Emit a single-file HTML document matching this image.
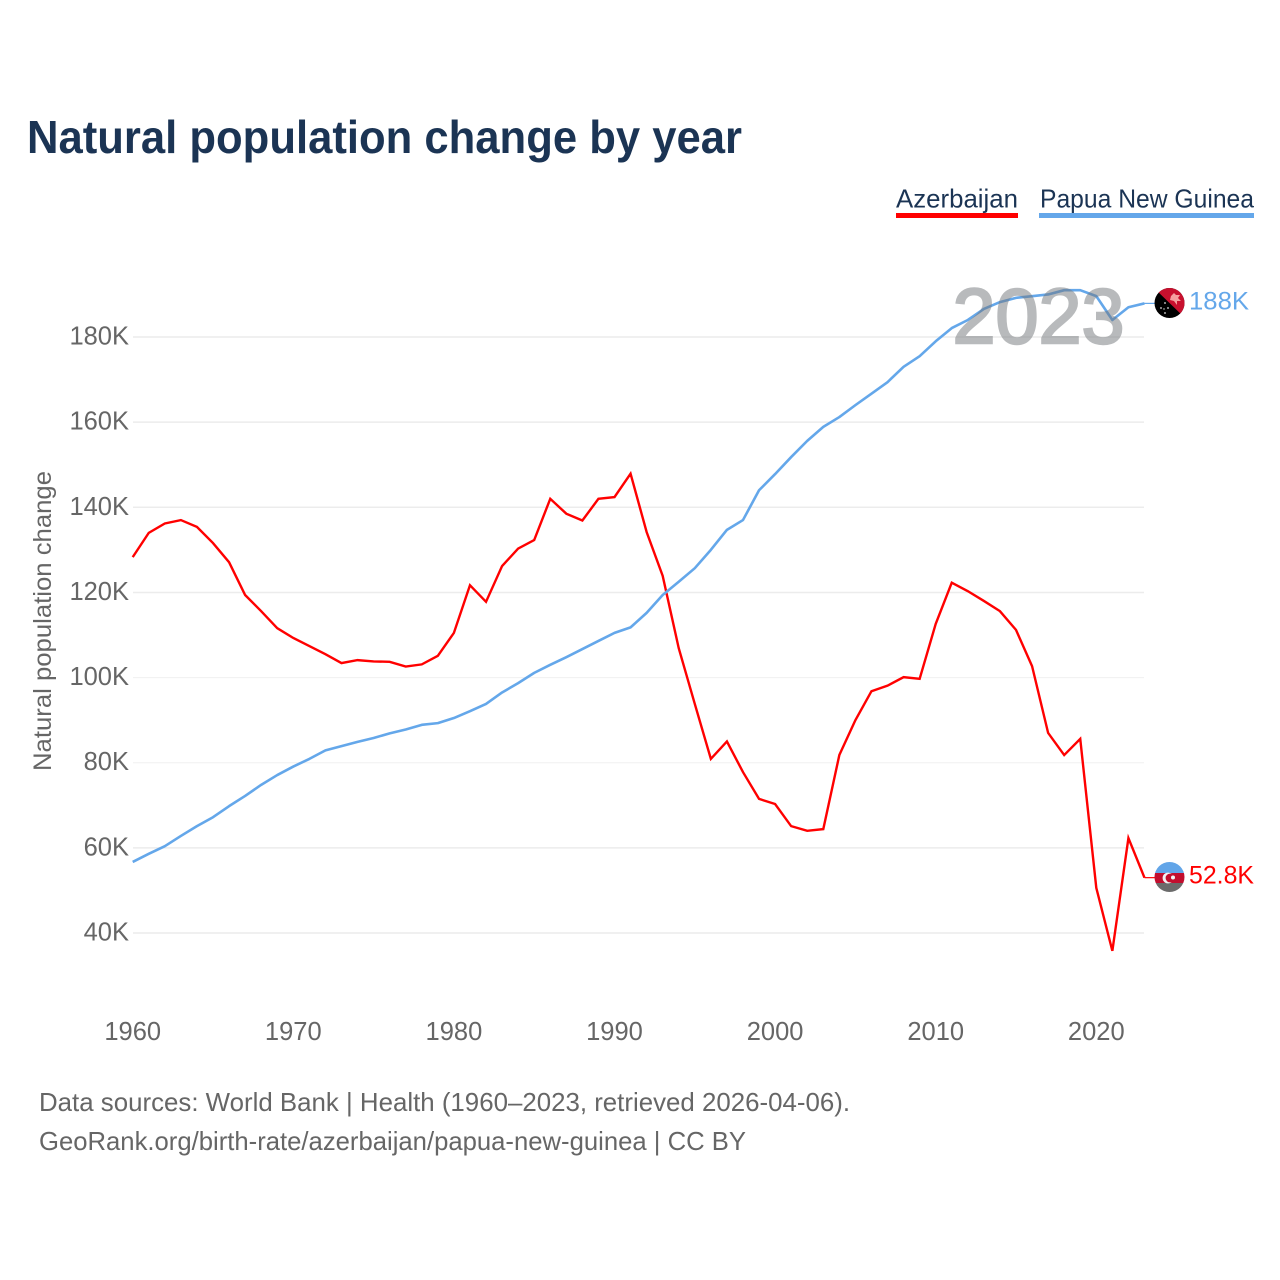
<!DOCTYPE html>
<html lang="en">
<head>
<meta charset="utf-8">
<title>Natural population change by year</title>
<style>
html,body{margin:0;padding:0;background:#fff;width:1280px;height:1280px;overflow:hidden}
svg{display:block;font-family:"Liberation Sans",sans-serif}
</style>
</head>
<body>
<svg id="chart" width="1280" height="1280" viewBox="0 0 1280 1280">
  <defs>
    <clipPath id="flag-clip-pg"><circle cx="1169.5" cy="303" r="15"/></clipPath>
    <clipPath id="flag-clip-az"><circle cx="1169.5" cy="877" r="15"/></clipPath>
  </defs>
  <rect width="1280" height="1280" fill="#fff"/>
  <text x="27" y="153" font-size="46" font-weight="700" fill="#1b3454" textLength="715" lengthAdjust="spacingAndGlyphs">Natural population change by year</text>

  <g>
    <text x="896" y="207.5" font-size="26" fill="#1b3454" textLength="122" lengthAdjust="spacingAndGlyphs">Azerbaijan</text>
    <rect x="896" y="213" width="122" height="5" fill="#ff0000"/>
  </g>
  <g>
    <text x="1040" y="207.5" font-size="26" fill="#1b3454" textLength="214" lengthAdjust="spacingAndGlyphs">Papua New Guinea</text>
    <rect x="1039" y="213" width="215" height="5" fill="#64a7ea"/>
  </g>

  <g id="grid"></g>
  <g id="y-ticks"></g>
  <g id="x-ticks"></g>
  <text transform="translate(51,621) rotate(-90)" text-anchor="middle" font-size="25" fill="#666" textLength="300" lengthAdjust="spacingAndGlyphs">Natural population change</text>

  <g id="series"></g>

  <text x="1038.5" y="343" text-anchor="middle" font-size="78" font-weight="400" fill="#73777b" opacity="0.5" stroke="#73777b" stroke-width="2.4" textLength="172" lengthAdjust="spacingAndGlyphs">2023</text>

  <g clip-path="url(#flag-clip-pg)">
    <rect x="1154" y="288" width="31" height="30" fill="#000"/>
    <polygon points="1154,288 1185,288 1185,318" fill="#c8102e"/>
    <polygon points="1171,296 1174,293 1176,295 1180,295 1178,298 1181,301 1177,301 1177,305 1174,301 1170,300" fill="#f5a0a0"/>
    <circle cx="1165" cy="303" r="0.9" fill="#ddd"/>
    <circle cx="1168" cy="308" r="0.9" fill="#ddd"/>
    <circle cx="1165" cy="313" r="0.9" fill="#ddd"/>
    <circle cx="1161" cy="308" r="0.9" fill="#ddd"/>
    <circle cx="1164" cy="309" r="0.7" fill="#ddd"/>
  </g>
  <g clip-path="url(#flag-clip-az)">
    <rect x="1154" y="862" width="31" height="11" fill="#62a5e8"/>
    <rect x="1154" y="873" width="31" height="10" fill="#c20e2e"/>
    <rect x="1154" y="883" width="31" height="10" fill="#6b6b6b"/>
    <circle cx="1168" cy="878" r="5.4" fill="#f3f3f3"/>
    <circle cx="1170" cy="878" r="4.4" fill="#c20e2e"/>
    <circle cx="1173" cy="877.5" r="2" fill="#f3f3f3"/>
  </g>

  <text x="1189" y="309.5" font-size="25" fill="#64a7ea" textLength="60" lengthAdjust="spacingAndGlyphs">188K</text>
  <text x="1189" y="883.5" font-size="25" fill="#ff0000" textLength="65" lengthAdjust="spacingAndGlyphs">52.8K</text>

  <text x="39" y="1111" font-size="26" fill="#666" textLength="811" lengthAdjust="spacingAndGlyphs">Data sources: World Bank | Health (1960–2023, retrieved 2026-04-06).</text>
  <text x="39" y="1150" font-size="26" fill="#666" textLength="707" lengthAdjust="spacingAndGlyphs">GeoRank.org/birth-rate/azerbaijan/papua-new-guinea | CC BY</text>
</svg>
<script>
const startYear = 1960;
const yTickValues = [40, 60, 80, 100, 120, 140, 160, 180];
const yTickLabels = ["40K", "60K", "80K", "100K", "120K", "140K", "160K", "180K"];
const xTickValues = [1960, 1970, 1980, 1990, 2000, 2010, 2020];
const xTickLabels = ["1960", "1970", "1980", "1990", "2000", "2010", "2020"];
const azerbaijanValues = [128.3,134,136.2,137,135.4,131.6,127.1,119.4,115.6,111.6,109.3,107.4,105.5,103.4,104.1,103.8,103.7,102.6,103.1,105.1,110.5,121.7,117.8,126.2,130.3,132.3,142,138.5,136.9,142,142.4,147.9,134.2,123.9,106.9,93.8,80.9,85,77.8,71.5,70.3,65.1,64,64.4,81.8,90,96.8,98.1,100.1,99.7,112.6,122.3,120.3,118,115.6,111.2,102.7,87,81.8,85.6,50.6,35.8,62.3,53];
const papuaNewGuineaValues = [56.7,58.6,60.4,62.8,65.1,67.2,69.8,72.2,74.8,77.1,79.1,80.9,82.9,83.9,84.9,85.8,86.9,87.8,88.9,89.3,90.5,92.1,93.8,96.5,98.7,101.1,103,104.8,106.7,108.6,110.5,111.8,115.2,119.4,122.5,125.7,130,134.7,137,144,147.8,151.8,155.6,158.9,161.2,164,166.7,169.4,173,175.5,179,182.1,184,186.6,188.2,189.2,189.6,190,191,191,189.6,184,187,187.9];

const NS = "http://www.w3.org/2000/svg";
function xScale(year) { return 132.7 + (year - 1960) * 16.06; }
function yScale(value) { return 933 - (value - 40) * 4.257; }

const grid = document.getElementById("grid");
const yTicks = document.getElementById("y-ticks");
const xTicks = document.getElementById("x-ticks");
const seriesGroup = document.getElementById("series");

yTickValues.forEach(function (v, i) {
  const line = document.createElementNS(NS, "line");
  line.setAttribute("x1", 133);
  line.setAttribute("x2", 1144);
  line.setAttribute("y1", yScale(v));
  line.setAttribute("y2", yScale(v));
  line.setAttribute("stroke", (v === 80 || v === 100) ? "#f0f0f0" : "#ececec");
  line.setAttribute("stroke-width", (v === 80 || v === 100) ? "1" : "1.5");
  
  
  grid.appendChild(line);

  const label = document.createElementNS(NS, "text");
  label.setAttribute("x", 129);
  label.setAttribute("y", yScale(v) + 7.5);
  label.setAttribute("text-anchor", "end");
  label.setAttribute("font-size", "25.5");
  label.setAttribute("fill", "#666");
  label.textContent = yTickLabels[i];
  
  
  yTicks.appendChild(label);
});

xTickValues.forEach(function (v, i) {
  const label = document.createElementNS(NS, "text");
  label.setAttribute("x", xScale(v));
  label.setAttribute("y", 1040);
  label.setAttribute("text-anchor", "middle");
  label.setAttribute("font-size", "25.5");
  label.setAttribute("fill", "#666");
  label.textContent = xTickLabels[i];
  
  
  xTicks.appendChild(label);
});

function linePoints(values) {
  return values.map(function (v, i) {
    return xScale(startYear + i).toFixed(2) + "," + yScale(v).toFixed(2);
  }).join(" ");
}

const azLine = document.createElementNS(NS, "polyline");
azLine.setAttribute("points", linePoints(azerbaijanValues));
azLine.setAttribute("fill", "none");
azLine.setAttribute("stroke", "#ff0000");
azLine.setAttribute("stroke-width", "2.4");
azLine.setAttribute("stroke-linejoin", "miter");


seriesGroup.appendChild(azLine);

const pgLine = document.createElementNS(NS, "polyline");
pgLine.setAttribute("points", linePoints(papuaNewGuineaValues));
pgLine.setAttribute("fill", "none");
pgLine.setAttribute("stroke", "#64a7ea");
pgLine.setAttribute("stroke-width", "2.6");
pgLine.setAttribute("stroke-linejoin", "round");


seriesGroup.appendChild(pgLine);

const azLast = azerbaijanValues[azerbaijanValues.length - 1];
const azConnector = document.createElementNS(NS, "line");
azConnector.setAttribute("x1", xScale(2023));
azConnector.setAttribute("x2", 1155);
azConnector.setAttribute("y1", yScale(azLast));
azConnector.setAttribute("y2", yScale(azLast));
azConnector.setAttribute("stroke", "#ff0000");
azConnector.setAttribute("stroke-width", "1.2");


seriesGroup.appendChild(azConnector);

const pgLast = papuaNewGuineaValues[papuaNewGuineaValues.length - 1];
const pgConnector = document.createElementNS(NS, "line");
pgConnector.setAttribute("x1", xScale(2023));
pgConnector.setAttribute("x2", 1155);
pgConnector.setAttribute("y1", yScale(pgLast));
pgConnector.setAttribute("y2", yScale(pgLast));
pgConnector.setAttribute("stroke", "#64a7ea");
pgConnector.setAttribute("stroke-width", "1.2");


seriesGroup.appendChild(pgConnector);
</script>
</body>
</html>
